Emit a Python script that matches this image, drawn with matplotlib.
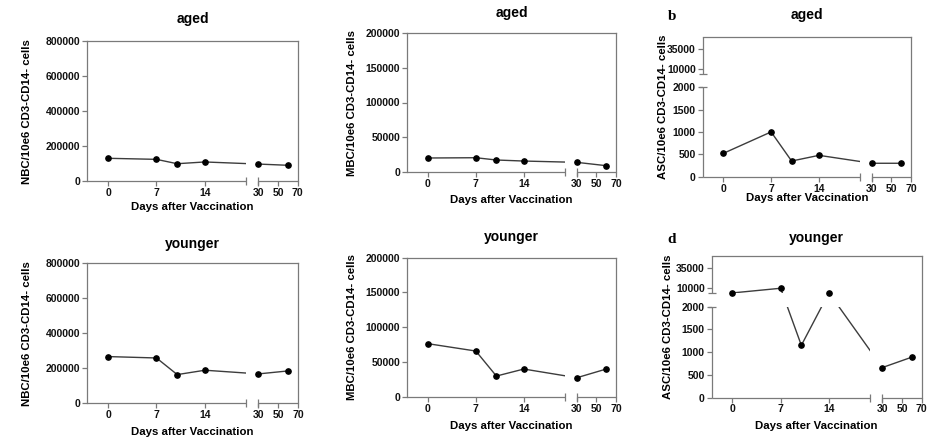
import numpy as np
import matplotlib.pyplot as plt

plt.rcParams['font.family'] = ['Liberation Sans', 'DejaVu Sans']
plt.rcParams['font.weight'] = 'bold'

W, H = 927, 438

# sampling days and the x tick labels
days = [0, 7, 10, 14, 30, 60]
day_ticks = [0, 7, 14, 30, 50, 70]

# cells per 10e6 CD3-CD14- cells
nbc_aged = [130000, 124000, 99000, 109000, 97000, 90000]
nbc_younger = [267000, 259000, 164000, 189000, 168000, 185000]
mbc_aged = [19800, 20200, 16900, 15400, 13500, 8700]
mbc_younger = [76300, 65700, 29700, 39800, 27300, 39800]
asc_aged = [520, 1000, 350, 477, 300, 300]
asc_younger = [4200, 10000, 1150, 4400, 660, 890]

nbc_ticks = [0, 200000, 400000, 600000, 800000]
mbc_ticks = [0, 50000, 100000, 150000, 200000]
asc_ticks = [0, 500, 1000, 1500, 2000, 10000, 35000]

# axis breaks: x jumps from day 20 to day 30, ASC y jumps from 2000 to 4000
x_break = (20, 30)
y_break = (2000, 4000)

line_col = '#3c3c3c'
frame_col = '#7a7a7a'


def piecewise(lo, hi, gap, rate):
    # linear below lo, a display gap, then compressed (rate) above hi
    k_in = [-1e7, lo, hi, 1e8]
    k_out = [-1e7, lo, lo + gap, lo + gap + (1e8 - hi) * rate]
    return (lambda v: np.interp(v, k_in, k_out),
            lambda u: np.interp(u, k_out, k_in))


x_funcs = piecewise(x_break[0], x_break[1], 1.74, 0.1428)
y_funcs = piecewise(y_break[0], y_break[1], 302, 0.01778)

# (values, ylim top, yticks, ylabel, title, box px L R T B, title y, xlabel y, ylabel x, broken y, letter)
panels = [
    (nbc_aged, 800000, nbc_ticks, 'NBC/10e6 CD3-CD14- cells', 'aged',
     (87.3, 297.7, 41.3, 181), 19.3, 206.7, 27, False, None),
    (mbc_aged, 200000, mbc_ticks, 'MBC/10e6 CD3-CD14- cells', 'aged',
     (407.3, 616, 33.3, 171.7), 12.7, 200, 352.3, False, None),
    (asc_aged, 50000, asc_ticks, 'ASC/10e6 CD3-CD14- cells', 'aged',
     (702.7, 911, 37, 176.7), 15, 198, 663, True, 'b'),
    (nbc_younger, 800000, nbc_ticks, 'NBC/10e6 CD3-CD14- cells', 'younger',
     (87.3, 298, 263.3, 403.3), 244, 432, 27, False, None),
    (mbc_younger, 200000, mbc_ticks, 'MBC/10e6 CD3-CD14- cells', 'younger',
     (407.3, 616, 257.7, 396.7), 236.7, 426, 352.3, False, None),
    (asc_younger, 50000, asc_ticks, 'ASC/10e6 CD3-CD14- cells', 'younger',
     (711.7, 921.7, 256, 397.5), 238.3, 426, 667.7, True, 'd'),
]

fig = plt.figure(figsize=(W / 100, H / 100), dpi=100)

for vals, ytop, yticks, ylab, title, (L, R, T, B), ty, xly, ylx, broken, letter in panels:
    ax = fig.add_axes([L / W, 1 - B / H, (R - L) / W, (B - T) / H])
    ax.set_xscale('function', functions=x_funcs)
    if broken:
        ax.set_yscale('function', functions=y_funcs)

    ax.plot(days, vals, color=line_col, lw=1.0, zorder=2)
    ax.plot(days, vals, 'o', color='black', ms=3.8, zorder=4)
    ax.axvspan(*x_break, color='white', lw=0, zorder=2.2)
    if broken:
        ax.axhspan(*y_break, color='white', lw=0, zorder=2.2)

    for sp in ax.spines.values():
        sp.set_color(frame_col)
        sp.set_linewidth(0.9)
    ax.spines['bottom'].set_visible(False)

    # broken bottom axis
    xt = ax.get_xaxis_transform()
    for seg in [(-3, x_break[0]), (x_break[1], 70)]:
        ax.plot(seg, [0, 0], color=frame_col, lw=0.9, transform=xt,
                clip_on=False, zorder=5, solid_capstyle='butt')
    ax.plot(x_break, [0, 0], ls='none', marker='|', ms=6, mew=0.9,
            color=frame_col, transform=xt, clip_on=False, zorder=5)

    if broken:
        ax.spines['left'].set_visible(False)
        yt = ax.get_yaxis_transform()
        for seg in [(0, y_break[0]), (y_break[1], ytop)]:
            ax.plot([0, 0], seg, color=frame_col, lw=0.9, transform=yt,
                    clip_on=False, zorder=5, solid_capstyle='butt')
        ax.plot([0, 0], y_break, ls='none', marker='_', ms=6, mew=0.9,
                color=frame_col, transform=yt, clip_on=False, zorder=5)

    ax.set_xlim(-3, 70)
    ax.set_ylim(0, ytop)
    ax.set_xticks(day_ticks, [str(d) for d in day_ticks])
    ax.set_yticks(yticks, [str(v) for v in yticks])
    ax.minorticks_off()
    ax.tick_params(direction='out', length=3.5, width=0.9, color=frame_col,
                   labelsize=7.5, pad=1.5, labelcolor='#111111')

    cx = (L + R) / 2
    fig.text(cx / W, 1 - ty / H, title, ha='center', va='center', fontsize=10)
    fig.text(cx / W, 1 - xly / H, 'Days after Vaccination', ha='center',
             va='center', fontsize=8.2)
    fig.text(ylx / W, 1 - ((T + B) / 2) / H, ylab, ha='center', va='center',
             rotation=90, fontsize=8.2)
    if letter:
        fig.text(671.7 / W, 1 - (ty + 1.5) / H, letter, ha='center', va='center',
                 fontsize=11, family=['Liberation Serif', 'DejaVu Serif'])

fig.savefig('out.png', dpi=100)
